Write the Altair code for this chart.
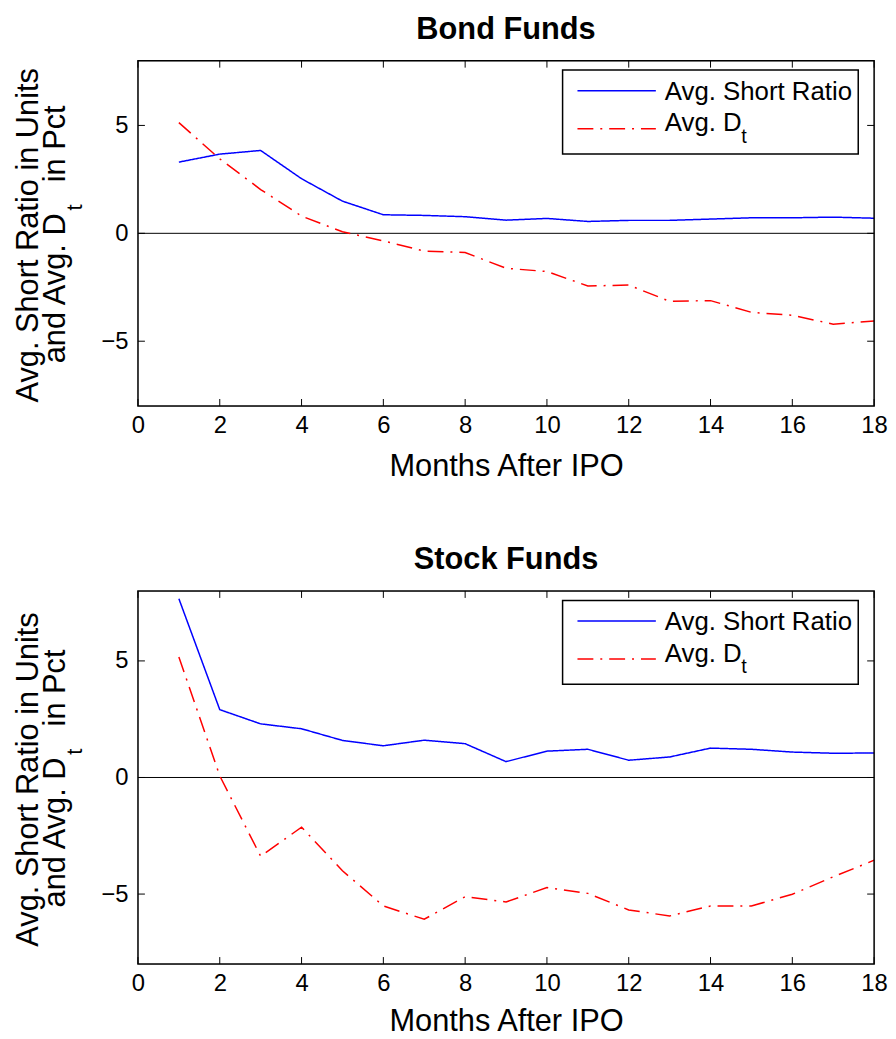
import altair as alt
import pandas as pd

# ---------------- data ----------------
months = list(range(1, 19))
bond_short = [3.30, 3.67, 3.84, 2.53, 1.49, 0.86, 0.83, 0.77, 0.61, 0.69,
              0.55, 0.60, 0.60, 0.66, 0.72, 0.72, 0.75, 0.70]
bond_dt = [5.13, 3.45, 2.03, 0.80, 0.07, -0.35, -0.82, -0.89, -1.62, -1.77,
           -2.44, -2.40, -3.15, -3.12, -3.66, -3.80, -4.21, -4.06]
stock_short = [7.67, 2.91, 2.30, 2.09, 1.59, 1.36, 1.60, 1.45, 0.68, 1.13,
               1.21, 0.74, 0.88, 1.26, 1.21, 1.09, 1.04, 1.05]
stock_dt = [5.17, 0.07, -3.38, -2.13, -4.00, -5.51, -6.08, -5.11, -5.34, -4.72,
            -4.97, -5.68, -5.94, -5.51, -5.51, -5.01, -4.26, -3.55]

series_names = ["Avg. Short Ratio", "Avg. Dt"]
panel_titles = ["Bond Funds", "Stock Funds"]
x_ticks = [0, 2, 4, 6, 8, 10, 12, 14, 16, 18]
y_ticks = [-5, 0, 5]
x_title = "Months After IPO"
y_title_line1 = "Avg. Short Ratio in Units"
y_title_line2 = ["and Avg. D", "t", "in Pct"]
legend_labels = ["Avg. Short Ratio", "Avg. D", "t"]

# ---------------- style ----------------
FONT = "Liberation Sans"
BLUE = "#0000ff"
RED = "#ff0000"
DASH = [16, 7, 2, 7]
W = 742
TICK = 7


def one_row(v):
    return pd.DataFrame({"label": [v]})


def text_layer(label, x, y, size, **kw):
    props = dict(font=FONT, fontSize=size, color="black", baseline="alphabetic")
    props.update(kw)
    return alt.Chart(one_row(label)).mark_text(**props).encode(
        text="label:N", x=alt.value(x), y=alt.value(y))


def panel(title, short, dt, H, title_pad):
    df = pd.DataFrame({
        "month": months * 2,
        "value": short + dt,
        "series": [series_names[0]] * len(months) + [series_names[1]] * len(months),
    })
    xs = alt.Scale(domain=[0, 18], nice=False, zero=False)
    ys = alt.Scale(domain=[-8, 8], nice=False, zero=False)
    x_enc = alt.X("month:Q", scale=xs, title=x_title,
                  axis=alt.Axis(values=x_ticks, ticks=False, tickSize=0, domain=False, grid=False,
                                labelFlush=False, labelFontSize=24, labelPadding=7.5, labelFont=FONT,
                                labelColor="black", titleFontSize=31, titleFont=FONT,
                                titleFontWeight="normal", titleColor="black", titlePadding=title_pad))
    y_enc = alt.Y("value:Q", scale=ys, title=None,
                  axis=alt.Axis(values=y_ticks, ticks=False, tickSize=0, domain=False, grid=False,
                                labelFlush=False, labelFontSize=24, labelPadding=10, labelFont=FONT,
                                labelColor="black"))

    lines = alt.Chart(df).mark_line(strokeWidth=1.5, clip=True).encode(
        x=x_enc, y=y_enc,
        color=alt.Color("series:N", scale=alt.Scale(domain=series_names, range=[BLUE, RED]), legend=None),
        strokeDash=alt.StrokeDash("series:N", scale=alt.Scale(domain=series_names, range=[[1, 0], DASH]),
                                  legend=None),
        detail="series:N",
    )
    zero = alt.Chart(pd.DataFrame({"value": [0]})).mark_rule(color="black", strokeWidth=1).encode(y=y_enc)

    xt = pd.DataFrame({"month": x_ticks})
    yt = pd.DataFrame({"value": y_ticks})
    xt_bottom = alt.Chart(xt).mark_rule(color="black", strokeWidth=1).encode(
        x=x_enc, y=alt.value(H), y2=alt.value(H - TICK))
    xt_top = alt.Chart(xt).mark_rule(color="black", strokeWidth=1).encode(
        x=x_enc, y=alt.value(0), y2=alt.value(TICK))
    yt_left = alt.Chart(yt).mark_rule(color="black", strokeWidth=1).encode(
        y=y_enc, x=alt.value(0), x2=alt.value(TICK))
    yt_right = alt.Chart(yt).mark_rule(color="black", strokeWidth=1).encode(
        y=y_enc, x=alt.value(W - TICK), x2=alt.value(W))

    frame = alt.Chart(one_row("frame")).mark_rect(fill="white", fillOpacity=0, stroke="black",
                                                  strokeWidth=1.5).encode(
        x=alt.value(0), x2=alt.value(W), y=alt.value(0), y2=alt.value(H))

    # legend box
    lg_box = alt.Chart(one_row("box")).mark_rect(fill="white", stroke="black", strokeWidth=1.5).encode(
        x=alt.value(428), x2=alt.value(726), y=alt.value(9.5), y2=alt.value(94))
    lg_l1 = alt.Chart(one_row("l1")).mark_rule(color=BLUE, strokeWidth=1.5).encode(
        x=alt.value(443), x2=alt.value(522), y=alt.value(30.3))
    lg_l2 = alt.Chart(one_row("l2")).mark_rule(color=RED, strokeWidth=1.5, strokeDash=DASH).encode(
        x=alt.value(443), x2=alt.value(522), y=alt.value(68.6))
    lg_t1 = text_layer(legend_labels[0], 531, 39.6, 26, align="left")
    lg_t2 = text_layer(legend_labels[1], 531, 71.3, 26, align="left")
    lg_t3 = text_layer(legend_labels[2], 608, 83, 20, align="left")

    # panel title
    ttl = text_layer(title, W / 2, -22, 31, align="center", fontWeight="bold")

    # y-axis title (two lines, with subscript)
    yc = H / 2 + 2
    yl1 = text_layer(y_title_line1, -101, yc, 31, angle=270, align="center")
    yl2a = text_layer(y_title_line2[0], -74, yc + 129, 31, angle=270, align="left")
    yl2b = text_layer(y_title_line2[1], -56, yc + 129 - 154, 22, angle=270, align="left")
    yl2c = text_layer(y_title_line2[2], -74, yc - 131, 31, angle=270, align="right")

    return alt.layer(
        zero, lines, xt_bottom, xt_top, yt_left, yt_right, frame,
        lg_box, lg_l1, lg_l2, lg_t1, lg_t2, lg_t3,
        ttl, yl1, yl2a, yl2b, yl2c,
    ).properties(width=W, height=H)


top = panel(panel_titles[0], bond_short, bond_dt, 348, 15)
bottom = panel(panel_titles[1], stock_short, stock_dt, 376, 12)

chart = alt.vconcat(top, bottom, spacing=61.5).properties(
    padding={"left": 4, "top": 1, "right": 0, "bottom": 0}
).configure_view(stroke=None).configure(font=FONT)

chart.save("out.html", embed_options={"renderer": "svg", "actions": False})
